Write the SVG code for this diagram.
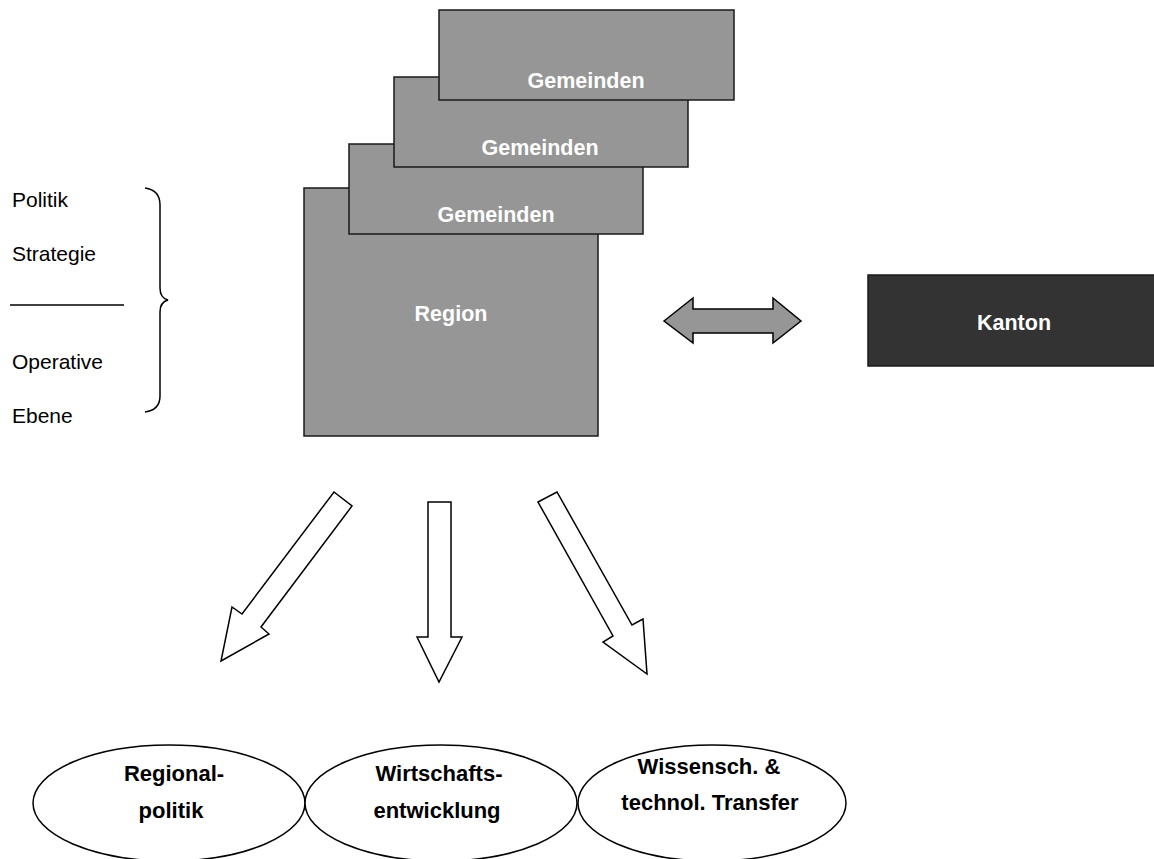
<svg xmlns="http://www.w3.org/2000/svg" width="1154" height="859" viewBox="0 0 1154 859">
<style>
.box{fill:#969696;stroke:#1a1a1a;stroke-width:1.5}
.dark{fill:#333333;stroke:#1a1a1a;stroke-width:1.5}
.wt{font-family:"Liberation Sans",Arial,sans-serif;font-weight:bold;font-size:21.5px;fill:#ffffff;text-anchor:middle}
.lt{font-family:"Liberation Sans",Arial,sans-serif;font-size:21px;fill:#000000}
.bt{font-family:"Liberation Sans",Arial,sans-serif;font-weight:bold;font-size:22px;fill:#000000;text-anchor:middle}
.arr{fill:#ffffff;stroke:#000000;stroke-width:1.5;stroke-linejoin:miter}
.ell{fill:#ffffff;stroke:#000000;stroke-width:1.5}
</style>
<rect width="1154" height="859" fill="#ffffff"/>
<g id="labels-left">
<text class="lt" x="12" y="207">Politik</text>
<text class="lt" x="12" y="261">Strategie</text>
<line x1="10" y1="305" x2="124" y2="305" stroke="#000" stroke-width="1.3"/>
<text class="lt" x="12" y="369">Operative</text>
<text class="lt" x="12" y="423">Ebene</text>
<path d="M145,188 Q160,190 160,205 L160,288 Q160,298 168,300 Q160,302 160,312 L160,396 Q160,410 145,412" fill="none" stroke="#000" stroke-width="1.5"/>
</g>
<g id="region">
<rect class="box" x="304" y="188" width="294" height="248"/>
<text class="wt" x="451" y="321">Region</text>
</g>
<g id="gemeinden-1">
<rect class="box" x="349" y="144" width="294" height="90"/>
<text class="wt" x="496" y="222">Gemeinden</text>
</g>
<g id="gemeinden-2">
<rect class="box" x="394" y="77" width="294" height="90"/>
<text class="wt" x="540" y="155">Gemeinden</text>
</g>
<g id="gemeinden-3">
<rect class="box" x="439" y="10" width="295" height="90"/>
<text class="wt" x="586" y="88">Gemeinden</text>
</g>
<g id="kanton">
<rect class="dark" x="868" y="275" width="290" height="91"/>
<text class="wt" x="1014" y="330">Kanton</text>
</g>
<g id="connectors">
<polygon points="664,321 693,298 693,309 773,309 773,298 801,321 773,343 773,333 693,333 693,343" fill="#969696" stroke="#000" stroke-width="1.5"/>
<polygon class="arr" points="334,492 352,506 261,627 269,634 221,661 232,607 242,614"/>
<polygon class="arr" points="428,502 451,502 451,637 462,637 439,682 417,637 428,637"/>
<polygon class="arr" points="538,502 557,492 632,625 643,619 647,674 603,642 613,636"/>
</g>
<g id="regionalpolitik">
<ellipse class="ell" cx="169" cy="803" rx="136" ry="58"/>
<text class="bt" x="174" y="781">Regional-</text>
<text class="bt" x="171" y="818">politik</text>
</g>
<g id="wirtschaftsentwicklung">
<ellipse class="ell" cx="441" cy="803" rx="136" ry="58"/>
<text class="bt" x="439" y="781">Wirtschafts-</text>
<text class="bt" x="437" y="818">entwicklung</text>
</g>
<g id="transfer">
<ellipse class="ell" cx="712" cy="803" rx="134" ry="58"/>
<text class="bt" x="709" y="774">Wissensch. &amp;</text>
<text class="bt" x="710" y="810">technol. Transfer</text>
</g>
</svg>
